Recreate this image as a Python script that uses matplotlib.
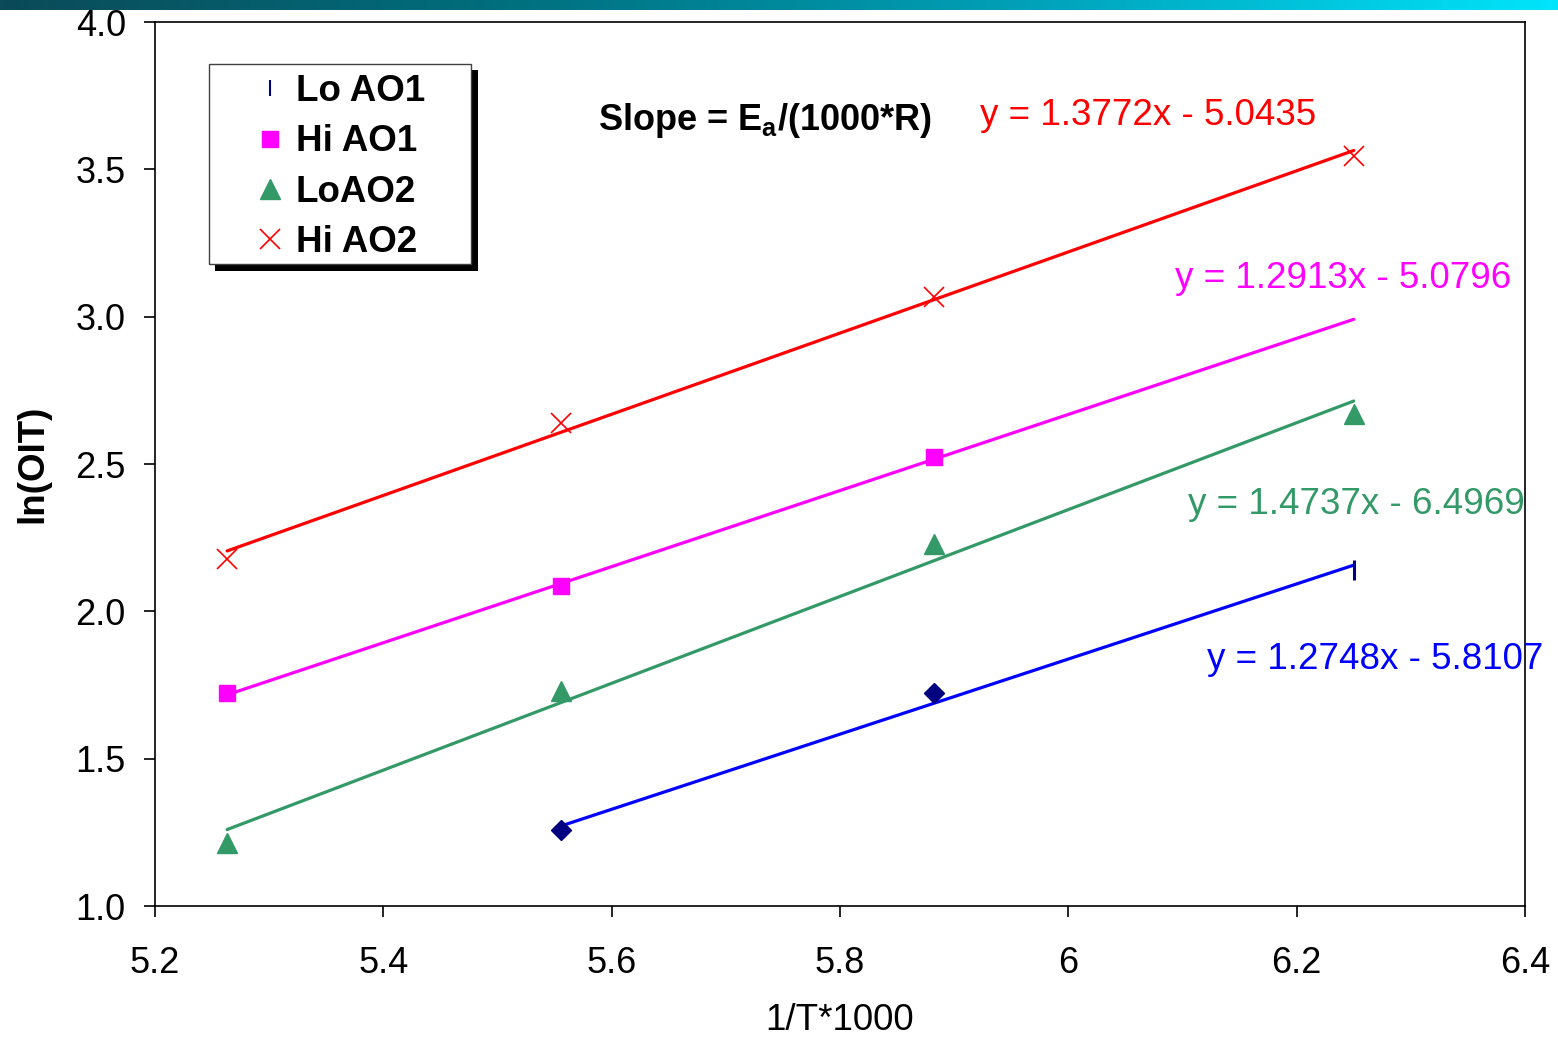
import numpy as np
import matplotlib
matplotlib.use("Agg")
import matplotlib.pyplot as plt
from matplotlib.colors import LinearSegmentedColormap
from matplotlib.patches import Rectangle

plt.rcParams["font.family"] = ["Liberation Sans", "DejaVu Sans"]
plt.rcParams["mathtext.fontset"] = "custom"
plt.rcParams["mathtext.rm"] = "Liberation Sans:bold"
plt.rcParams["mathtext.bf"] = "Liberation Sans:bold"
plt.rcParams["mathtext.it"] = "Liberation Sans:bold"

# 1000/T for T = 190, 180, 170, 160 K
inv_t = [1000 / 190, 1000 / 180, 1000 / 170, 1000 / 160]

# ln(OIT) measurements
lo_ao1 = [None, 1.258, 1.723, 2.14]
hi_ao1 = [1.723, 2.086, 2.524, None]
lo_ao2 = [1.214, 1.730, 2.228, 2.669]
hi_ao2 = [2.177, 2.639, 3.066, 3.545]

# Linear trend lines (slope, intercept) and their x-ranges
fits = {
    "Lo AO1": (1.2748, -5.8107, inv_t[1], inv_t[3]),
    "Hi AO1": (1.2913, -5.0796, inv_t[0], inv_t[3]),
    "LoAO2": (1.4737, -6.4969, inv_t[0], inv_t[3]),
    "Hi AO2": (1.3772, -5.0435, inv_t[0], inv_t[3]),
}
eq_labels = {
    "Hi AO2": "y = 1.3772x - 5.0435",
    "Hi AO1": "y = 1.2913x - 5.0796",
    "LoAO2": "y = 1.4737x - 6.4969",
    "Lo AO1": "y = 1.2748x - 5.8107",
}
eq_pos = {
    "Hi AO2": (5.9226, 3.684),
    "Hi AO1": (6.0934, 3.131),
    "LoAO2": (6.1048, 2.364),
    "Lo AO1": (6.1214, 1.835),
}

line_colors = {"Lo AO1": "#0000FF", "Hi AO1": "#FF00FF",
               "LoAO2": "#339966", "Hi AO2": "#FF0000"}
navy = "#000080"

W, H = 1558, 1041
fig = plt.figure(figsize=(W / 100, H / 100), dpi=100)
ax = fig.add_axes([155 / W, 1 - 906 / H, (1525 - 155) / W, (906 - 22) / H])

# Trend lines
for name, (m, b, x0, x1) in fits.items():
    xs = np.array([x0, x1])
    ax.plot(xs, m * xs + b, color=line_colors[name], lw=2.3, zorder=2,
            solid_capstyle="round")

def pts(vals):
    xs = [x for x, v in zip(inv_t, vals) if v is not None]
    ys = [v for v in vals if v is not None]
    return xs, ys

# Markers
x, y = pts(lo_ao1)
ax.plot(x[:2], y[:2], ls="none", marker="D", ms=10, color=navy, zorder=3)
h_lo1, = ax.plot(x[2:], y[2:], ls="none", marker="|", ms=15, mew=2.2,
                 color=navy, zorder=3, label="Lo AO1")
x, y = pts(hi_ao1)
h_hi1, = ax.plot(x, y, ls="none", marker="s", ms=12, color="#FF00FF",
                 zorder=3, label="Hi AO1")
x, y = pts(lo_ao2)
h_lo2, = ax.plot(x, y, ls="none", marker="^", ms=14, color="#339966",
                 zorder=3, label="LoAO2")
x, y = pts(hi_ao2)
h_hi2, = ax.plot(x, y, ls="none", marker="x", ms=14, mew=1.2,
                 color="#FF0000", zorder=3, label="Hi AO2")

# Trend-line equations
for name, txt in eq_labels.items():
    ax.text(*eq_pos[name], txt, color=line_colors[name], fontsize=26.5,
            ha="left", va="center", clip_on=False)

ax.text(5.588, 3.667, r"Slope = E$_{a}$/(1000*R)", fontsize=26,
        fontweight="bold", ha="left", va="center")

ax.set_xlim(5.2, 6.4)
ax.set_ylim(1.0, 4.0)
ax.set_xticks([5.2, 5.4, 5.6, 5.8, 6.0, 6.2, 6.4])
ax.set_xticklabels(["5.2", "5.4", "5.6", "5.8", "6", "6.2", "6.4"])
ax.set_yticks([1.0, 1.5, 2.0, 2.5, 3.0, 3.5, 4.0])
ax.set_yticklabels(["1.0", "1.5", "2.0", "2.5", "3.0", "3.5", "4.0"])
ax.tick_params(axis="both", direction="out", length=8, width=1.2,
               labelsize=26, pad=13)
ax.tick_params(axis="x", pad=21)
for s in ax.spines.values():
    s.set_linewidth(1.2)
    s.set_color("black")

ax.set_xlabel("1/T*1000", fontsize=26.5, labelpad=16)
ax.set_ylabel("ln(OIT)", fontsize=26.5, fontweight="bold", labelpad=18)

# Legend with a boxed frame and a solid drop shadow
fig.patches.append(Rectangle((215 / W, 1 - 271 / H), 263 / W, 201 / H,
                             transform=fig.transFigure, facecolor="black",
                             edgecolor="none", zorder=4))
fig.patches.append(Rectangle((209 / W, 1 - 264 / H), 262 / W, 200 / H,
                             transform=fig.transFigure, facecolor="white",
                             edgecolor="#404040", lw=1.0, zorder=5))
leg = fig.legend(handles=[h_lo1, h_hi1, h_lo2, h_hi2], loc="upper left",
                 bbox_to_anchor=(244 / W, 1 - 74 / H), frameon=False,
                 borderpad=0, borderaxespad=0, handlelength=1.4,
                 handletextpad=0.0, labelspacing=0.42,
                 prop={"size": 26.5, "weight": "bold"})
leg.set_zorder(6)
for hnd in leg.legend_handles:
    if hnd.get_marker() == "|":
        hnd.set_markersize(12)
        hnd.set_markeredgewidth(1.5)

# Gradient banner across the top
bar = fig.add_axes([0, 1 - 10 / H, 1, 10 / H], zorder=10)
cmap = LinearSegmentedColormap.from_list(
    "banner", ["#0b4a58", "#00707f", "#00a2ba", "#00e4fb"])
bar.imshow(np.linspace(0, 1, 512)[None, :], aspect="auto", cmap=cmap,
           extent=[0, 1, 0, 1])
bar.set_axis_off()

fig.savefig("out.png", dpi=100)
